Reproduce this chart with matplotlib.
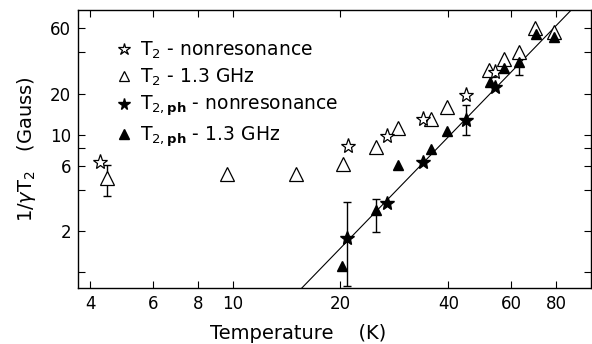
import matplotlib
matplotlib.use("Agg")
import matplotlib.pyplot as plt
from matplotlib.lines import Line2D
from matplotlib.ticker import FixedLocator, FixedFormatter, NullLocator

# T2 - nonresonance (open stars)
star_open_T = [4.25, 21.0, 26.9, 34.0, 44.9, 53.9]
star_open_G = [6.4, 8.3, 9.8, 13.0, 19.6, 28.8]

# T2 - 1.3 GHz (open triangles)
tri_open_T = [4.46, 9.66, 15.0, 20.3, 25.2, 28.9, 35.9, 39.7, 52.1, 57.4, 63.0, 70.0, 78.7]
tri_open_G = [4.9, 5.2, 5.2, 6.2, 8.2, 11.3, 13.2, 15.9, 29.8, 35.6, 40.5, 60.0, 56.6]

# T2,ph - nonresonance (filled stars)
star_fill_T = [20.9, 26.9, 34.0, 44.9, 53.9]
star_fill_G = [1.79, 3.18, 6.4, 12.9, 22.5]

# T2,ph - 1.3 GHz (filled triangles)
tri_fill_T = [20.2, 25.2, 28.9, 35.8, 39.7, 52.4, 57.4, 63.2, 70.5, 78.7]
tri_fill_G = [1.11, 2.85, 6.05, 7.9, 10.7, 24.5, 30.7, 34.2, 54.5, 51.6]

# error bars
err_T = [4.46, 20.9, 25.2, 44.9, 63.2]
err_G = [4.9, 1.79, 2.85, 12.9, 34.2]
err_lo = [3.6, 0.80, 1.97, 10.0, 27.4]
err_hi = [6.05, 3.23, 3.42, 16.6, 38.8]

# power-law line
fit_T = [15.6, 88.2]
fit_G = [0.77, 81.5]

x_ticks = [4, 6, 8, 10, 20, 40, 60, 80]
y_ticks = [1, 2, 4, 6, 8, 10, 20, 40, 60]
y_labels = ["", "2", "", "6", "", "10", "20", "", "60"]

plt.rcParams['font.family'] = ['DejaVu Sans']

fig = plt.figure(figsize=(5.92, 3.44), dpi=100)
ax = fig.add_axes([0.1318, 0.1628, 0.8662, 0.8082])
ax.set_xscale('log')
ax.set_yscale('log')
ax.set_xlim(3.7, 100)
ax.set_ylim(0.77, 81.5)

ax.plot(fit_T, fit_G, color='black', lw=0.8)

ax.errorbar(err_T, err_G,
            yerr=[[g - lo for g, lo in zip(err_G, err_lo)],
                  [hi - g for g, hi in zip(err_G, err_hi)]],
            fmt='none', ecolor='black', elinewidth=1.0, capsize=3, capthick=1.0)

ax.plot(tri_open_T, tri_open_G, ls='none', marker='^', ms=9.5, mfc='white',
        mec='black', mew=0.9)
ax.plot(star_open_T, star_open_G, ls='none', marker='*', ms=11, mfc='white',
        mec='black', mew=0.9)
ax.plot(tri_fill_T, tri_fill_G, ls='none', marker='^', ms=7, mfc='black',
        mec='black')
ax.plot(star_fill_T, star_fill_G, ls='none', marker='*', ms=10, mfc='black',
        mec='black')

ax.xaxis.set_major_locator(FixedLocator(x_ticks))
ax.xaxis.set_major_formatter(FixedFormatter([str(t) for t in x_ticks]))
ax.xaxis.set_minor_locator(NullLocator())
ax.yaxis.set_major_locator(FixedLocator(y_ticks))
ax.yaxis.set_major_formatter(FixedFormatter(y_labels))
ax.yaxis.set_minor_locator(NullLocator())
ax.tick_params(direction='in', length=5, width=0.8, top=True, right=True,
               labelsize=12, pad=5)
for s in ax.spines.values():
    s.set_linewidth(1.0)

ax.set_xlabel('Temperature    (K)', fontsize=14)
ax.xaxis.set_label_coords(0.43, -0.13)
ax.set_ylabel(r'1/$\gamma$T$_2$   (Gauss)', fontsize=14)
ax.yaxis.set_label_coords(-0.078, 0.5)

handles = [
    Line2D([], [], ls='none', marker='*', ms=9, mfc='white', mec='black', mew=0.9),
    Line2D([], [], ls='none', marker='^', ms=6.5, mfc='white', mec='black', mew=0.9),
    Line2D([], [], ls='none', marker='*', ms=8.5, mfc='black', mec='black'),
    Line2D([], [], ls='none', marker='^', ms=6.5, mfc='black', mec='black'),
]
labels = [r'T$_2$ - nonresonance', r'T$_2$ - 1.3 GHz',
          r'T$_{2,\mathbf{ph}}$ - nonresonance', r'T$_{2,\mathbf{ph}}$ - 1.3 GHz']
ax.legend(handles, labels, loc='upper left', frameon=False, fontsize=13.5,
          handlelength=0.6, handletextpad=0.6, labelspacing=0.32,
          bbox_to_anchor=(0.045, 0.955))

fig.savefig('out.png', dpi=100)
